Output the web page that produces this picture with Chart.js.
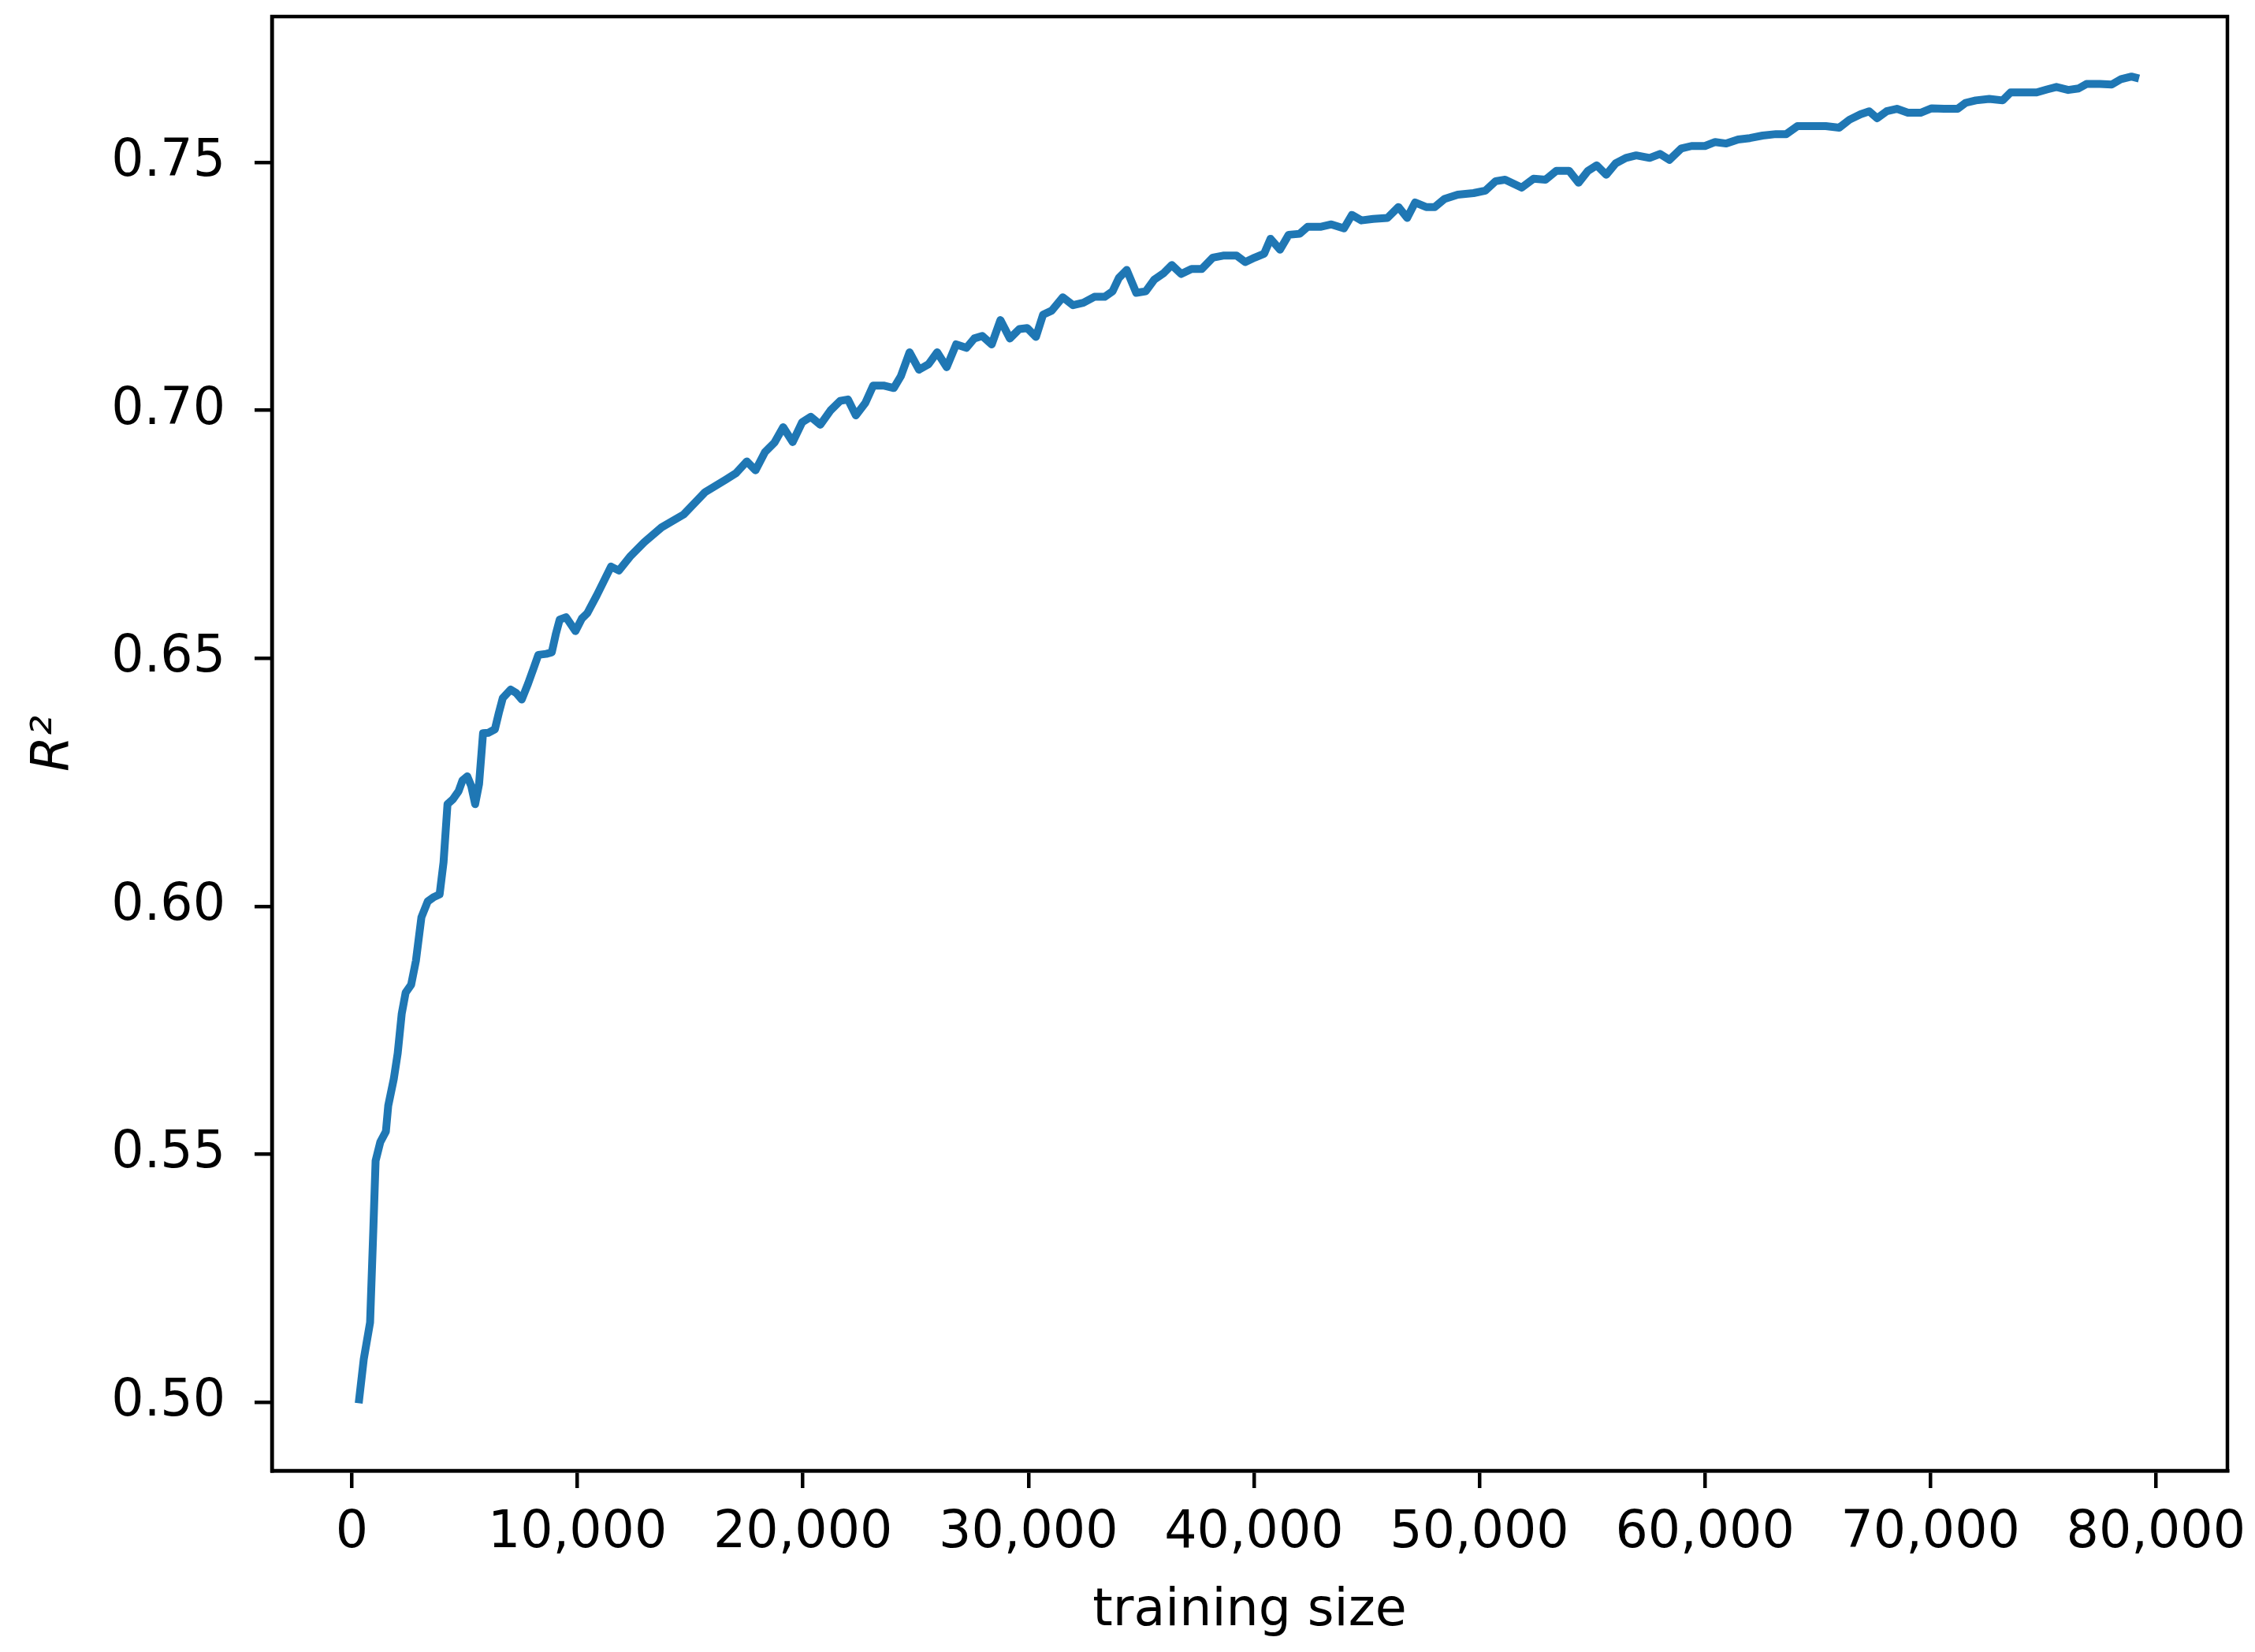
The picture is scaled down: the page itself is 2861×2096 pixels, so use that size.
<!DOCTYPE html>
<html lang="en">
<head>
<meta charset="UTF-8">
<title>R² vs training size</title>
<script src="https://cdn.jsdelivr.net/npm/chart.js"></script>
<style>
  html, body { margin: 0; padding: 0; background: #fff; }
  #wrap { width: 2861px; height: 2096px; position: relative; }
</style>
</head>
<body>
<div id="wrap"><canvas id="r2Chart"></canvas></div>
<script>
// training size (x) and R² score
const sizes = [
  300, 525, 805, 950, 1050, 1260, 1506, 1610, 1856, 2030,
  2207, 2382, 2627, 2837, 3082, 3363, 3608, 3888, 4063, 4238,
  4483, 4729, 4904, 5114, 5289, 5464, 5639, 5814, 6060, 6340,
  6515, 6690, 7040, 7285, 7531, 7811, 8056, 8266, 8616, 8862,
  9037, 9212, 9492, 9912, 10193, 10438, 10858, 11174, 11489, 11839,
  12329, 12960, 13730, 14711, 15657, 16567, 17023, 17513, 17898, 18319,
  18739, 19124, 19545, 19965, 20350, 20771, 21226, 21646, 21996, 22347,
  22767, 23117, 23573, 24028, 24343, 24728, 25149, 25569, 25954, 26375,
  26795, 27250, 27601, 27951, 28371, 28757, 29177, 29597, 29947, 30333,
  30648, 31033, 31524, 31979, 32434, 32925, 33380, 33730, 34011, 34360,
  34781, 35201, 35587, 36007, 36357, 36778, 37233, 37688, 38179, 38634,
  39229, 39615, 40035, 40455, 40736, 41156, 41541, 42032, 42382, 42942,
  43433, 43993, 44343, 44764, 45289, 45920, 46410, 46795, 47145, 47636,
  48021, 48441, 49037, 49737, 50263, 50718, 51138, 51874, 52400, 52925,
  53415, 53975, 54396, 54816, 55201, 55622, 56042, 56497, 56953, 57548,
  58004, 58424, 58949, 59405, 60000, 60455, 60946, 61471, 61996, 62557,
  63152, 63608, 64098, 64623, 65359, 65954, 66410, 66900, 67285, 67636,
  68056, 68511, 69002, 69562, 70053, 70613, 71208, 71559, 72014, 72609,
  73205, 73555, 74116, 74711, 75166, 75587, 76112, 76567, 76918, 77513,
  78039, 78459, 78914, 79250
];
const r2 = [
  0.4998, 0.5087, 0.5161, 0.5350, 0.5487, 0.5525, 0.5546, 0.5598, 0.5652, 0.5704,
  0.5783, 0.5826, 0.5842, 0.5890, 0.5978, 0.6010, 0.6018, 0.6024, 0.6089, 0.6206,
  0.6216, 0.6232, 0.6254, 0.6262, 0.6243, 0.6206, 0.6247, 0.6349, 0.6350, 0.6357,
  0.6390, 0.6420, 0.6437, 0.6430, 0.6417, 0.6449, 0.6480, 0.6507, 0.6509, 0.6512,
  0.6548, 0.6578, 0.6583, 0.6555, 0.6580, 0.6591, 0.6627, 0.6656, 0.6685, 0.6677,
  0.6705, 0.6734, 0.6764, 0.6790, 0.6835, 0.6860, 0.6873, 0.6897, 0.6879, 0.6916,
  0.6935, 0.6966, 0.6936, 0.6976, 0.6987, 0.6971, 0.7000, 0.7019, 0.7022, 0.6990,
  0.7015, 0.7050, 0.7050, 0.7045, 0.7069, 0.7117, 0.7082, 0.7093, 0.7117, 0.7087,
  0.7133, 0.7126, 0.7145, 0.7150, 0.7133, 0.7182, 0.7145, 0.7164, 0.7166, 0.7148,
  0.7193, 0.7201, 0.7228, 0.7212, 0.7217, 0.7229, 0.7229, 0.7240, 0.7267, 0.7283,
  0.7237, 0.7240, 0.7264, 0.7277, 0.7293, 0.7275, 0.7285, 0.7285, 0.7308, 0.7312,
  0.7312, 0.7299, 0.7308, 0.7316, 0.7346, 0.7324, 0.7354, 0.7356, 0.7370, 0.7370,
  0.7375, 0.7367, 0.7394, 0.7383, 0.7386, 0.7388, 0.7410, 0.7388, 0.7419, 0.7410,
  0.7410, 0.7426, 0.7435, 0.7438, 0.7443, 0.7462, 0.7465, 0.7449, 0.7467, 0.7465,
  0.7483, 0.7483, 0.7459, 0.7483, 0.7494, 0.7475, 0.7498, 0.7509, 0.7514, 0.7509,
  0.7517, 0.7505, 0.7528, 0.7533, 0.7533, 0.7541, 0.7538, 0.7546, 0.7549, 0.7554,
  0.7557, 0.7557, 0.7573, 0.7573, 0.7573, 0.7570, 0.7586, 0.7597, 0.7603, 0.7589,
  0.7603, 0.7608, 0.7600, 0.7600, 0.7609, 0.7608, 0.7608, 0.7620, 0.7625, 0.7628,
  0.7625, 0.7641, 0.7641, 0.7641, 0.7647, 0.7652, 0.7646, 0.7649, 0.7658, 0.7658,
  0.7657, 0.7668, 0.7673, 0.7669
];

const xTicks = [0, 10000, 20000, 30000, 40000, 50000, 60000, 70000, 80000];
const xTickLabels = ['0', '10,000', '20,000', '30,000', '40,000', '50,000', '60,000', '70,000', '80,000'];
const yTicks = [0.50, 0.55, 0.60, 0.65, 0.70, 0.75];
const yTickLabels = ['0.50', '0.55', '0.60', '0.65', '0.70', '0.75'];

const points = sizes.map((s, i) => ({ x: s, y: r2[i] }));

// matplotlib style box around the plot area
const frame = {
  id: 'frame',
  afterDatasetsDraw(chart) {
    const { ctx, chartArea: a } = chart;
    ctx.save();
    ctx.strokeStyle = '#000';
    ctx.lineWidth = 4.5;
    ctx.strokeRect(a.left, a.top, a.right - a.left, a.bottom - a.top);
    ctx.restore();
  }
};

const font = { family: '"DejaVu Sans", sans-serif', size: 65 };

new Chart(document.getElementById('r2Chart'), {
  type: 'line',
  data: {
    datasets: [{
      data: points,
      borderColor: '#1f77b4',
      borderWidth: 10,
      pointRadius: 0,
      tension: 0,
      fill: false,
      borderJoinStyle: 'round'
    }]
  },
  options: {
    responsive: true,
    maintainAspectRatio: false,
    devicePixelRatio: 1,
    animation: false,
    layout: { padding: { top: 21, right: 35, left: 0, bottom: 0 } },
    plugins: { legend: { display: false }, tooltip: { enabled: false } },
    scales: {
      x: {
        type: 'linear',
        min: -3548,
        max: 83170,
        afterBuildTicks: s => { s.ticks = xTicks.map(v => ({ value: v })); },
        afterFit: s => { s.height = 230; s.paddingLeft = 0; s.paddingRight = 0; },
        ticks: {
          callback: (v, i) => xTickLabels[i],
          color: '#000',
          font: font,
          padding: 19,
          maxRotation: 0,
          autoSkip: false
        },
        grid: { display: true, drawOnChartArea: false, drawTicks: true, tickLength: 22, color: '#000', lineWidth: 4.5 },
        border: { display: true, color: '#000', width: 4.5 },
        title: { display: true, text: 'training size', color: '#000', font: font, padding: { top: 0, bottom: 12 } }
      },
      y: {
        type: 'linear',
        min: 0.4862,
        max: 0.7794,
        afterBuildTicks: s => { s.ticks = yTicks.map(v => ({ value: v })); },
        afterFit: s => { s.width = 345; s.paddingTop = 0; s.paddingBottom = 0; },
        ticks: {
          callback: (v, i) => yTickLabels[i],
          color: '#000',
          font: font,
          padding: 37,
          autoSkip: false
        },
        grid: { display: true, drawOnChartArea: false, drawTicks: true, tickLength: 22, color: '#000', lineWidth: 4.5 },
        border: { display: true, color: '#000', width: 4.5 },
        title: { display: true, text: 'R²', color: '#000', font: { family: '"DejaVu Sans", sans-serif', size: 65, style: 'italic' }, padding: { top: 30, bottom: 0 } }
      }
    }
  },
  plugins: [frame]
});
</script>
</body>
</html>
